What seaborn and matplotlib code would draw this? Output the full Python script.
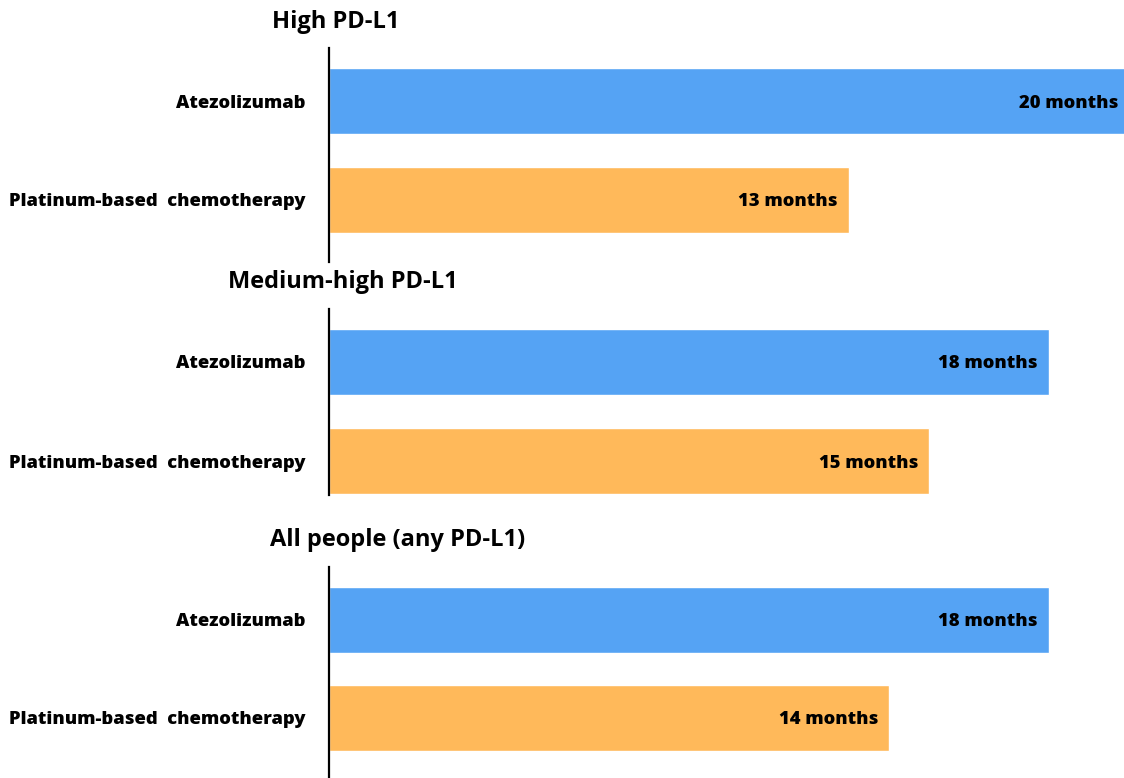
import matplotlib
matplotlib.use("Agg")
import matplotlib.pyplot as plt
import seaborn as sns
import pandas as pd

# Median overall survival by PD-L1 expression group
groups = ["High PD-L1", "Medium-high PD-L1", "All people (any PD-L1)"]
treatments = ["Atezolizumab", "Platinum-based  chemotherapy"]
atezolizumab_months = [20, 18, 18]
chemotherapy_months = [13, 15, 14]
colors = ["#55A3F4", "#FFB95A"]

sns.set_theme(style="white")
plt.rcParams["font.family"] = ["Open Sans", "DejaVu Sans"]
plt.rcParams["font.weight"] = "bold"

W, H = 1124, 778
fig = plt.figure(figsize=(W / 100, H / 100), dpi=100)

# panel layout in pixels: axis top, axis bottom, first bar centre, row spacing
panels = [
    (48, 262, 101, 99),
    (309, 495, 362, 99),
    (567, 778, 620, 98),
]
title_pos = [(336, 22), (343, 282), (398, 540)]
x_left = 329
px_per_month = 40.0

for i, (top, bottom, c0, unit) in enumerate(panels):
    df = pd.DataFrame({
        "treatment": treatments,
        "months": [atezolizumab_months[i], chemotherapy_months[i]],
    })
    ax = fig.add_axes([x_left / W, 1 - bottom / H, 1 - x_left / W, (bottom - top) / H])
    sns.barplot(data=df, y="treatment", x="months", hue="treatment",
                palette=colors, width=0.67, orient="h", ax=ax,
                legend=False, saturation=1)
    ax.set_xlim(0, (W - x_left) / px_per_month)
    ax.set_ylim(1 + (bottom - c0 - unit) / unit, -(c0 - top) / unit)
    ax.set_xlabel("")
    ax.set_ylabel("")
    ax.set_xticks([])
    for s in ["top", "right", "bottom"]:
        ax.spines[s].set_visible(False)
    ax.spines["left"].set_color("black")
    ax.spines["left"].set_linewidth(1.6)
    ax.tick_params(axis="y", length=0, pad=17)
    for lab in ax.get_yticklabels():
        lab.set_fontsize(13.2)
        lab.set_fontweight("heavy")
        lab.set_color("black")
        lab.set_va("center_baseline")
    for j, v in enumerate(df["months"]):
        ax.annotate(f"{v} months", xy=(v, j), xytext=(-11, -2),
                    textcoords="offset pixels", ha="right", va="center",
                    fontsize=13.2, fontweight="heavy", color="black",
                    annotation_clip=False)
    tx, ty = title_pos[i]
    fig.text(tx / W, 1 - ty / H, groups[i], ha="center", va="center",
             fontsize=17, fontweight="bold", color="black")

fig.savefig("out.png", dpi=100)
